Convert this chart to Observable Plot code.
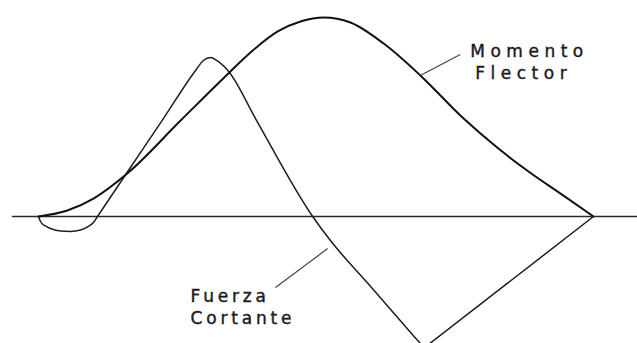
<!DOCTYPE html>
<html>
<head>
<meta charset="utf-8">
<script src="https://cdn.jsdelivr.net/npm/d3@7"></script>
<script src="https://cdn.jsdelivr.net/npm/@observablehq/plot@0.6"></script>
<style>
  html, body { margin: 0; padding: 0; background: #fff; overflow: hidden; }
  #chart svg { display: block; }
</style>
</head>
<body>
<div id="chart"></div>
<script>
// Beam span positions (arbitrary units along the beam, 0 = left support, 10 = right support)
const momentX = [0, 0.52, 0.99, 1.62, 2.56, 3.44, 3.86, 4.31, 4.72, 5.14, 5.62, 6.22, 6.88, 7.66, 8.27, 8.86, 9.46, 10];
// Momento Flector values (arbitrary units, peak = 10)
const momentY = [0, 0.30, 0.90, 2.21, 4.82, 7.24, 8.34, 9.30, 9.80, 10.0, 9.75, 8.69, 7.09, 4.92, 3.45, 2.20, 1.05, 0];

// Fuerza Cortante: curved part (left support to the lowest point)
const shearX = [0, 0.036, 0.108, 0.216, 0.396, 0.577, 0.757, 0.901, 0.991, 1.063, 1.62, 2.25, 2.83, 2.97, 3.10, 3.21, 3.44, 3.91, 4.94, 5.26, 5.98, 6.76, 6.95];
const shearY = [0, -0.25, -0.45, -0.60, -0.73, -0.75, -0.68, -0.50, -0.30, 0, 2.31, 4.92, 7.34, 7.84, 7.99, 7.84, 7.24, 4.92, 0, -1.21, -3.50, -6.00, -6.60];
// Fuerza Cortante: straight part (lowest point to right support)
const shearEndX = [6.95, 10];
const shearEndY = [-6.60, 0];

// Baseline (zero line) extent
const axisSpan = [-0.47, 10.8];

// Labels and their leader lines (annotation anchors in data units)
const labelText = ["Momento", "Flector", "Fuerza", "Cortante"];
const labelX = [7.78, 7.87, 2.74, 2.74];
const labelY = [7.99, 6.93, -4.32, -5.40];
const leaderX1 = [6.88, 5.21];
const leaderY1 = [7.09, -1.61];
const leaderX2 = [7.60, 4.27];
const leaderY2 = [8.14, -3.57];

const moment = momentX.map((x, i) => ({x, y: momentY[i]}));
const shear = shearX.map((x, i) => ({x, y: shearY[i]}));
const shearEnd = shearEndX.map((x, i) => ({x, y: shearEndY[i]}));
const labels = labelText.map((t, i) => ({t, x: labelX[i], y: labelY[i]}));
const leaders = leaderX1.map((x1, i) => ({x1, y1: leaderY1[i], x2: leaderX2[i], y2: leaderY2[i]}));

const ink = "#1e1e1e";
const textOpts = {
  x: "x", y: "y", text: "t",
  textAnchor: "start", lineAnchor: "bottom",
  fontSize: 17, fontFamily: "DejaVu Sans", fill: "#1a1a1a",
  stroke: "#1a1a1a", strokeWidth: 0.4
};

const chart = Plot.plot({
  width: 637,
  height: 343,
  margin: 0,
  style: {background: "#fff", overflow: "hidden"},
  x: {domain: [0, 10], range: [38, 593], axis: null},
  y: {domain: [0, 10], range: [216, 17], axis: null},
  marks: [
    Plot.ruleY([0], {x1: axisSpan[0], x2: axisSpan[1], stroke: "#2a2a2a", strokeWidth: 1.3}),
    Plot.line(shear, {x: "x", y: "y", curve: "monotone-x", stroke: ink, strokeWidth: 1.5}),
    Plot.line(shearEnd, {x: "x", y: "y", curve: "linear", stroke: ink, strokeWidth: 1.5}),
    Plot.line(moment, {x: "x", y: "y", curve: "monotone-x", stroke: "#111", strokeWidth: 2}),
    Plot.link(leaders, {x1: "x1", y1: "y1", x2: "x2", y2: "y2", stroke: "#444", strokeWidth: 1.2}),
    Plot.text(labels.slice(0, 2), {...textOpts, className: "lbl-m"}),
    Plot.text(labels.slice(2), {...textOpts, className: "lbl-f"})
  ]
});
chart.querySelectorAll(".lbl-m text").forEach(t => t.setAttribute("letter-spacing", "5.5"));
chart.querySelectorAll(".lbl-f text").forEach(t => t.setAttribute("letter-spacing", "3.8"));
document.getElementById("chart").appendChild(chart);
</script>
</body>
</html>
